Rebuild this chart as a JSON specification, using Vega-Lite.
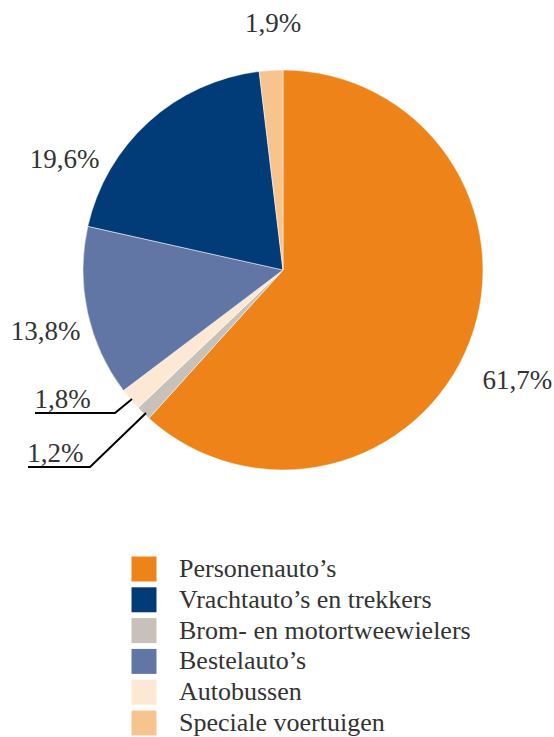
{
  "$schema": "https://vega.github.io/schema/vega-lite/v6.json",
  "width": 542,
  "height": 540,
  "autosize": {"type": "none"},
  "padding": {"left": 12, "top": 0, "right": 0, "bottom": 197},
  "background": "white",
  "config": {"view": {"stroke": null}},
  "data": {
    "values": [
      {"category": "Personenauto’s", "value": 61.7, "order": 1, "label": "61,7%"},
      {"category": "Brom- en motortweewielers", "value": 1.2, "order": 2, "label": "1,2%"},
      {"category": "Autobussen", "value": 1.8, "order": 3, "label": "1,8%"},
      {"category": "Bestelauto’s", "value": 13.8, "order": 4, "label": "13,8%"},
      {"category": "Vrachtauto’s en trekkers", "value": 19.6, "order": 5, "label": "19,6%"},
      {"category": "Speciale voertuigen", "value": 1.9, "order": 6, "label": "1,9%"}
    ]
  },
  "layer": [
    {
      "mark": {"type": "arc", "outerRadius": 200, "stroke": "#ffffff", "strokeWidth": 0.5},
      "encoding": {
        "theta": {"field": "value", "type": "quantitative", "stack": true},
        "order": {"field": "order", "type": "quantitative"},
        "color": {
          "field": "category",
          "type": "nominal",
          "scale": {
            "domain": ["Personenauto’s", "Vrachtauto’s en trekkers", "Brom- en motortweewielers", "Bestelauto’s", "Autobussen", "Speciale voertuigen"],
            "range": ["#EE8419", "#023C78", "#C8C1BA", "#6276A6", "#FDE8D3", "#F8C48E"]
          },
          "legend": {
            "title": null,
            "orient": "none",
            "legendX": 119,
            "legendY": 556,
            "padding": 0,
            "symbolType": "square",
            "symbolSize": 625,
            "symbolStrokeWidth": 0,
            "symbolOpacity": 1,
            "labelFont": "Liberation Serif",
            "labelFontSize": 26,
            "labelColor": "#333333",
            "labelOffset": 22,
            "rowPadding": 4.8,
            "labelLimit": 400
          }
        }
      }
    },
    {
      "mark": {"type": "text", "radius": 248, "dx": 5, "dy": 2, "font": "Liberation Serif", "fontSize": 27, "color": "#333333", "align": "center", "baseline": "middle"},
      "encoding": {
        "theta": {"field": "value", "type": "quantitative", "stack": true},
        "order": {"field": "order", "type": "quantitative"},
        "detail": {"field": "category", "type": "nominal"},
        "text": {"condition": {"test": "datum.label == '1,9%'", "field": "label"}, "value": ""}
      }
    },
    {
      "mark": {"type": "text", "radius": 248, "dx": 5, "dy": 9, "font": "Liberation Serif", "fontSize": 27, "color": "#333333", "align": "center", "baseline": "middle"},
      "encoding": {
        "theta": {"field": "value", "type": "quantitative", "stack": true},
        "order": {"field": "order", "type": "quantitative"},
        "detail": {"field": "category", "type": "nominal"},
        "text": {"condition": {"test": "datum.label == '13,8%'", "field": "label"}, "value": ""}
      }
    },
    {
      "mark": {"type": "text", "radius": 248, "dx": -52, "dy": 74, "font": "Liberation Serif", "fontSize": 27, "color": "#333333", "align": "center", "baseline": "middle"},
      "encoding": {
        "theta": {"field": "value", "type": "quantitative", "stack": true},
        "order": {"field": "order", "type": "quantitative"},
        "detail": {"field": "category", "type": "nominal"},
        "text": {"condition": {"test": "datum.label == '19,6%'", "field": "label"}, "value": ""}
      }
    },
    {
      "mark": {"type": "text", "radius": 248, "dx": 3, "dy": 22, "font": "Liberation Serif", "fontSize": 27, "color": "#333333", "align": "center", "baseline": "middle"},
      "encoding": {
        "theta": {"field": "value", "type": "quantitative", "stack": true},
        "order": {"field": "order", "type": "quantitative"},
        "detail": {"field": "category", "type": "nominal"},
        "text": {"condition": {"test": "datum.label == '61,7%'", "field": "label"}, "value": ""}
      }
    },
    {
      "mark": {"type": "text", "radius": 200, "dx": -68, "dy": 1, "font": "Liberation Serif", "fontSize": 27, "color": "#333333", "align": "center", "baseline": "middle"},
      "encoding": {
        "theta": {"field": "value", "type": "quantitative", "stack": true},
        "order": {"field": "order", "type": "quantitative"},
        "detail": {"field": "category", "type": "nominal"},
        "text": {"condition": {"test": "datum.label == '1,8%'", "field": "label"}, "value": ""}
      }
    },
    {
      "mark": {"type": "text", "radius": 200, "dx": -88, "dy": 41, "font": "Liberation Serif", "fontSize": 27, "color": "#333333", "align": "center", "baseline": "middle"},
      "encoding": {
        "theta": {"field": "value", "type": "quantitative", "stack": true},
        "order": {"field": "order", "type": "quantitative"},
        "detail": {"field": "category", "type": "nominal"},
        "text": {"condition": {"test": "datum.label == '1,2%'", "field": "label"}, "value": ""}
      }
    },
    {
      "data": {
        "values": [
          {"leader": "Autobussen", "px": -1.24, "py": -0.715},
          {"leader": "Autobussen", "px": -0.84, "py": -0.715},
          {"leader": "Autobussen", "px": -0.755, "py": -0.645},
          {"leader": "Brom", "px": -1.275, "py": -0.985},
          {"leader": "Brom", "px": -0.965, "py": -0.985},
          {"leader": "Brom", "px": -0.685, "py": -0.715}
        ]
      },
      "mark": {"type": "line", "color": "#000000", "strokeWidth": 2},
      "encoding": {
        "x": {"field": "px", "type": "quantitative", "scale": {"domain": [-1.355, 1.355], "nice": false, "zero": false}, "axis": null},
        "y": {"field": "py", "type": "quantitative", "scale": {"domain": [-1.35, 1.35], "nice": false, "zero": false}, "axis": null},
        "detail": {"field": "leader", "type": "nominal"}
      }
    }
  ]
}
